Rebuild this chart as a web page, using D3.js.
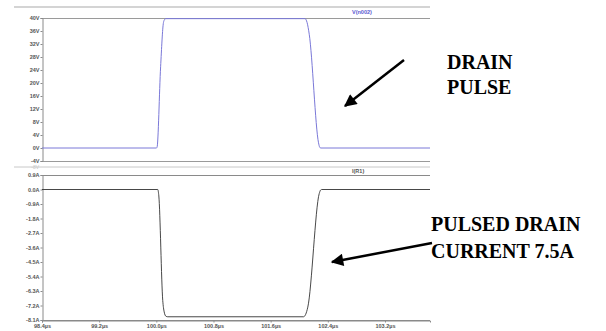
<!DOCTYPE html>
<html>
<head>
<meta charset="utf-8">
<script src="https://cdn.jsdelivr.net/npm/d3@7"></script>
<style>
  body { margin: 0; background: #fff; }
  svg { display: block; }
</style>
</head>
<body>
<script>
// tick labels
const timeTicks = [98.4, 99.2, 100.0, 100.8, 101.6, 102.4, 103.2]
const voltTicks = [40, 36, 32, 28, 24, 20, 16, 12, 8, 4, 0, -4]
const ampTicks = [0.9, 0.0, -0.9, -1.8, -2.7, -3.6, -4.5, -5.4, -6.3, -7.2, -8.1]

// V(n002) trace (time in us, volts)
const vTime = [98.4, 100.0, 100.01, 100.06, 100.10, 100.115, 100.13, 102.08, 102.11, 102.14, 102.27, 102.285, 102.30, 103.83]
const vVal  = [0, 0, 0.2, 25, 38.6, 39.5, 39.8, 39.8, 38.6, 35, 1.6, 0.3, 0, 0]

// I(R1) trace (time in us, amps)
const iTime = [98.4, 100.02, 100.035, 100.09, 100.11, 100.135, 100.16, 102.06, 102.09, 102.12, 102.28, 102.30, 102.315, 103.83]
const iVal  = [0, 0, -0.4, -6.9, -7.6, -7.87, -7.9, -7.9, -7.75, -7.3, -0.25, -0.03, 0, 0]

const width = 606, height = 331

let svg = d3.select('body').append('svg')
  .attr('width', width)
  .attr('height', height)

let x = d3.scaleLinear().domain([98.4, 103.83]).range([42, 430])
let yV = d3.scaleLinear().domain([-4, 40]).range([161, 18])
let yI = d3.scaleLinear().domain([-8.1, 0.9]).range([320, 175])

const labelFont = 'Liberation Sans, Arial, sans-serif'

// header bands
svg.append('line').attr('x1', 14).attr('x2', 430).attr('y1', 7).attr('y2', 7)
  .attr('stroke', '#d4d4d4').attr('stroke-width', 2)
svg.append('line').attr('x1', 14).attr('x2', 430).attr('y1', 167).attr('y2', 167)
  .attr('stroke', '#c8c8c8').attr('stroke-width', 1)

// horizontal frame lines
;[18, 161].forEach(y => svg.append('line')
  .attr('x1', 42).attr('x2', 430).attr('y1', y + 0.5).attr('y2', y + 0.5)
  .attr('stroke', '#9a9a9a'))
;[175, 320].forEach(y => svg.append('line')
  .attr('x1', 42).attr('x2', 430).attr('y1', y + 0.5).attr('y2', y + 0.5)
  .attr('stroke', '#8a8a8a'))

// y axes
let axisV = svg.append('g').attr('transform', 'translate(42.5,0)')
  .call(d3.axisLeft(yV).tickValues(voltTicks).tickSize(2).tickFormat(d => d + 'V'))
let axisI = svg.append('g').attr('transform', 'translate(42.5,0)')
  .call(d3.axisLeft(yI).tickValues(ampTicks).tickSize(2).tickFormat(d => d.toFixed(1) + 'A'))
let axisT = svg.append('g').attr('transform', 'translate(0,320.5)')
  .call(d3.axisBottom(x).tickValues(timeTicks).tickSize(2).tickFormat(d => d.toFixed(1) + 'µs'))

;[axisV, axisI, axisT].forEach(a => {
  a.select('.domain').attr('stroke', '#8a8a8a')
  a.selectAll('.tick line').attr('stroke', '#8a8a8a')
  a.selectAll('.tick text')
    .attr('font-family', labelFont)
    .attr('font-size', 5.5)
    .attr('font-weight', 'bold')
    .attr('fill', '#555')
})
axisV.selectAll('.tick text').attr('x', -3)
axisI.selectAll('.tick text').attr('x', -3)
axisT.selectAll('.tick text').attr('y', 4)

// faint separator label
svg.append('text').attr('x', 39).attr('y', 169).attr('text-anchor', 'end')
  .attr('font-family', labelFont).attr('font-size', 5).attr('fill', '#c8c8c8').text('-8V')

// trace names
svg.append('text').attr('x', 352).attr('y', 14).attr('font-family', labelFont)
  .attr('font-size', 5.5).attr('font-weight', 'bold').attr('fill', '#5a5ad0').text('V(n002)')
svg.append('text').attr('x', 352).attr('y', 173).attr('font-family', labelFont)
  .attr('font-size', 5.5).attr('font-weight', 'bold').attr('fill', '#555').text('I(R1)')

// traces
let lineV = d3.line().x((d, i) => x(vTime[i])).y(d => yV(d)).curve(d3.curveMonotoneX)
let lineI = d3.line().x((d, i) => x(iTime[i])).y(d => yI(d)).curve(d3.curveMonotoneX)

svg.append('path').attr('d', lineV(vVal))
  .attr('fill', 'none').attr('stroke', '#7a78d8').attr('stroke-width', 1)
svg.append('path').attr('d', lineI(iVal))
  .attr('fill', 'none').attr('stroke', '#333').attr('stroke-width', 0.9)

// annotations
svg.append('defs').append('marker')
  .attr('id', 'head').attr('viewBox', '0 0 10 10')
  .attr('refX', 9).attr('refY', 5)
  .attr('markerWidth', 6).attr('markerHeight', 5).attr('orient', 'auto')
  .attr('markerUnits', 'strokeWidth')
  .append('path').attr('d', 'M0,0L10,5L0,10Z').attr('fill', '#000')

svg.append('line').attr('x1', 404).attr('y1', 60).attr('x2', 345).attr('y2', 106)
  .attr('stroke', '#000').attr('stroke-width', 2.5).attr('marker-end', 'url(#head)')
svg.append('line').attr('x1', 432).attr('y1', 243).attr('x2', 332).attr('y2', 262)
  .attr('stroke', '#000').attr('stroke-width', 2.5).attr('marker-end', 'url(#head)')

const noteFont = 'Liberation Serif, Times New Roman, serif'
let notes = [
  { t: 'DRAIN', x: 447, y: 69 },
  { t: 'PULSE', x: 447, y: 94 },
  { t: 'PULSED DRAIN', x: 431, y: 231 },
  { t: 'CURRENT 7.5A', x: 431, y: 258 }
]
svg.selectAll('text.note').data(notes).enter().append('text')
  .attr('class', 'note')
  .attr('x', d => d.x).attr('y', d => d.y)
  .attr('font-family', noteFont).attr('font-size', 20).attr('font-weight', 'bold')
  .attr('fill', '#000')
  .text(d => d.t)
</script>
</body>
</html>
